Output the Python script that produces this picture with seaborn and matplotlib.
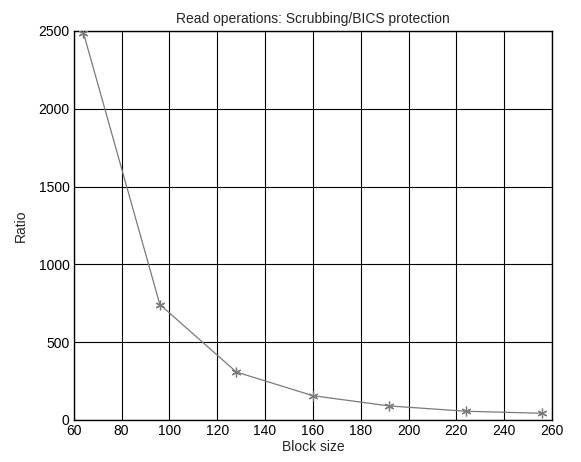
import matplotlib
matplotlib.use("Agg")
import matplotlib.pyplot as plt
import seaborn as sns
import pandas as pd

# data
block_size = [64, 96, 128, 160, 192, 224, 256]
ratio = [2490, 742, 308, 156, 90, 56, 43]

sns.set_style("white")
plt.rcParams['font.family'] = ['Liberation Sans', 'DejaVu Sans']
plt.rcParams['font.size'] = 10

df = pd.DataFrame({'Block size': block_size, 'Ratio': ratio})

fig = plt.figure(figsize=(5.81, 4.62), dpi=100)
ax = fig.add_axes([0.127, 0.091, 0.823, 0.842])

sns.lineplot(data=df, x='Block size', y='Ratio', ax=ax, color='#7a7a7a',
             linewidth=0.9, marker=(6, 2, 0), markersize=7,
             markeredgecolor='#7a7a7a', markeredgewidth=0.9, zorder=3)

ax.set_xlim(60, 260)
ax.set_ylim(0, 2500)
ax.set_xticks(range(60, 261, 20))
ax.set_yticks(range(0, 2501, 500))
ax.grid(True, color='black', linewidth=0.8, linestyle='-')
for s in ax.spines.values():
    s.set_color('black')
    s.set_linewidth(1.0)
ax.tick_params(direction='in', length=0, labelsize=10, colors='black', pad=3)

ax.set_title("Read operations: Scrubbing/BICS protection", fontsize=10, pad=6)
ax.set_xlabel("Block size", fontsize=10, labelpad=1)
ax.set_ylabel("Ratio", fontsize=10, labelpad=8)

fig.savefig("out.png", dpi=100)
